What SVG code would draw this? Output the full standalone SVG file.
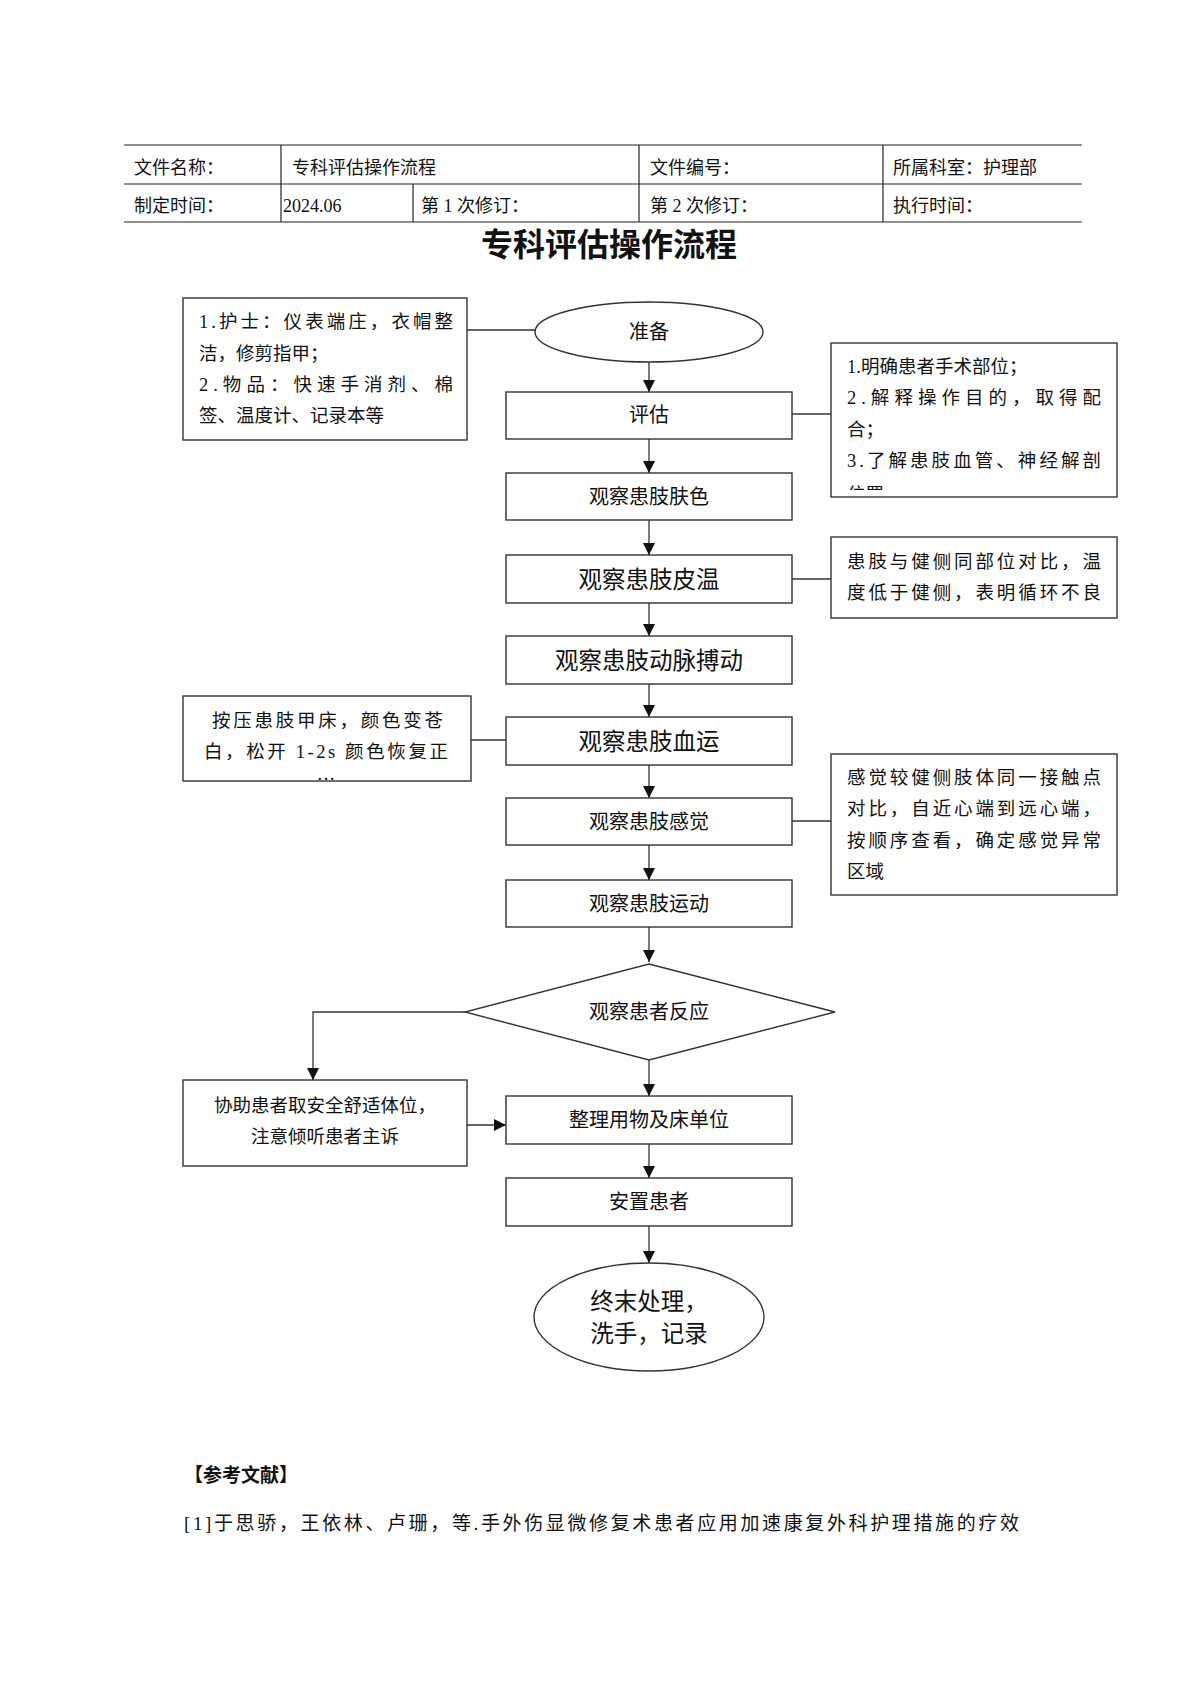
<svg xmlns="http://www.w3.org/2000/svg" width="1200" height="1696" viewBox="0 0 1200 1696">
<style>
text{font-family:"Liberation Serif","Noto Sans CJK SC",serif;fill:#111}
.hdr{font-size:18px}
.box{fill:#fff;stroke:#333;stroke-width:1.4}
.n{font-size:20px;text-anchor:middle;dominant-baseline:central}
.big{font-size:23.5px;text-anchor:middle;dominant-baseline:central}
.s{font-size:18.5px;dominant-baseline:central}
.sc{font-size:18.5px;dominant-baseline:central;text-anchor:middle}
.tl{stroke:#222;stroke-width:1.2}
.c{stroke:#333;stroke-width:1.3;fill:none}
</style>
<defs>
<marker id="ah" markerUnits="userSpaceOnUse" markerWidth="12" markerHeight="14" refX="12" refY="6" orient="auto"><path d="M0,0 L12,6 L0,12 z" fill="#111"/></marker>
<clipPath id="cr1"><rect x="832" y="344" width="284" height="146"/></clipPath>
<clipPath id="cl2"><rect x="184" y="697" width="286" height="83"/></clipPath>
</defs>
<rect width="1200" height="1696" fill="#fff"/>
<g id="header">
<line class="tl" x1="124" y1="145" x2="1082" y2="145"/>
<line class="tl" x1="124" y1="184" x2="1082" y2="184"/>
<line class="tl" x1="124" y1="222" x2="1082" y2="222"/>
<line class="tl" x1="281" y1="145" x2="281" y2="222"/>
<line class="tl" x1="413" y1="184" x2="413" y2="222"/>
<line class="tl" x1="639" y1="145" x2="639" y2="222"/>
<line class="tl" x1="883" y1="145" x2="883" y2="222"/>
<text class="hdr" x="134" y="174">文件名称：</text>
<text class="hdr" x="292" y="174">专科评估操作流程</text>
<text class="hdr" x="650" y="174">文件编号：</text>
<text class="hdr" x="893" y="174">所属科室：护理部</text>
<text class="hdr" x="134" y="212">制定时间：</text>
<text class="hdr" x="283" y="212">2024.06</text>
<text class="hdr" x="421" y="212">第 1 次修订：</text>
<text class="hdr" x="650" y="212">第 2 次修订：</text>
<text class="hdr" x="893" y="212">执行时间：</text>
<text x="609" y="256" font-size="32" font-weight="bold" text-anchor="middle">专科评估操作流程</text>
</g>
<g id="connectors">
<line class="c" x1="467" y1="330" x2="535" y2="330"/>
<line class="c" x1="649" y1="362" x2="649" y2="392" marker-end="url(#ah)"/>
<line class="c" x1="792" y1="414" x2="831" y2="414"/>
<line class="c" x1="649" y1="439" x2="649" y2="473" marker-end="url(#ah)"/>
<line class="c" x1="649" y1="520" x2="649" y2="555" marker-end="url(#ah)"/>
<line class="c" x1="792" y1="579" x2="831" y2="579"/>
<line class="c" x1="649" y1="603" x2="649" y2="636" marker-end="url(#ah)"/>
<line class="c" x1="649" y1="684" x2="649" y2="717" marker-end="url(#ah)"/>
<line class="c" x1="471" y1="740" x2="506" y2="740"/>
<line class="c" x1="649" y1="765" x2="649" y2="798" marker-end="url(#ah)"/>
<line class="c" x1="792" y1="821" x2="831" y2="821"/>
<line class="c" x1="649" y1="845" x2="649" y2="880" marker-end="url(#ah)"/>
<line class="c" x1="649" y1="927" x2="649" y2="962" marker-end="url(#ah)"/>
<polyline class="c" points="465,1012 313,1012 313,1080" marker-end="url(#ah)"/>
<line class="c" x1="649" y1="1060" x2="649" y2="1096" marker-end="url(#ah)"/>
<line class="c" x1="467" y1="1125" x2="506" y2="1125" marker-end="url(#ah)"/>
<line class="c" x1="649" y1="1144" x2="649" y2="1178" marker-end="url(#ah)"/>
<line class="c" x1="649" y1="1226" x2="649" y2="1263" marker-end="url(#ah)"/>
</g>
<g id="n-prep">
<ellipse class="box" cx="649" cy="332" rx="114" ry="30"/>
<text class="n" x="649" y="332">准备</text>
</g>
<g id="n-note1">
<rect class="box" x="183" y="298" width="284" height="142"/>
<text class="s" x="199" y="322" textLength="254" lengthAdjust="spacing">1.护士：仪表端庄，衣帽整</text>
<text class="s" x="199" y="354">洁，修剪指甲；</text>
<text class="s" x="199" y="385" textLength="254" lengthAdjust="spacing">2.物品：快速手消剂、棉</text>
<text class="s" x="199" y="416">签、温度计、记录本等</text>
</g>
<g id="n-assess">
<rect class="box" x="506" y="392" width="286" height="47"/>
<text class="n" x="649" y="415">评估</text>
</g>
<g id="n-note2">
<rect class="box" x="831" y="343" width="286" height="154"/>
<g clip-path="url(#cr1)">
<text class="s" x="847" y="367">1.明确患者手术部位；</text>
<text class="s" x="847" y="398" textLength="254" lengthAdjust="spacing">2.解释操作目的，取得配</text>
<text class="s" x="847" y="430">合；</text>
<text class="s" x="847" y="461" textLength="254" lengthAdjust="spacing">3.了解患肢血管、神经解剖</text>
<text class="s" x="847" y="495">位置</text>
</g>
</g>
<g id="n-color">
<rect class="box" x="506" y="473" width="286" height="47"/>
<text class="n" x="649" y="497">观察患肢肤色</text>
</g>
<g id="n-temp">
<rect class="box" x="506" y="555" width="286" height="48"/>
<text class="big" x="649" y="580">观察患肢皮温</text>
</g>
<g id="n-note3">
<rect class="box" x="831" y="537" width="286" height="81"/>
<text class="s" x="847" y="562" textLength="254" lengthAdjust="spacing">患肢与健侧同部位对比，温</text>
<text class="s" x="847" y="593" textLength="254" lengthAdjust="spacing">度低于健侧，表明循环不良</text>
</g>
<g id="n-pulse">
<rect class="box" x="506" y="636" width="286" height="48"/>
<text class="big" x="649" y="661">观察患肢动脉搏动</text>
</g>
<g id="n-blood">
<rect class="box" x="506" y="717" width="286" height="48"/>
<text class="big" x="649" y="742">观察患肢血运</text>
</g>
<g id="n-note4">
<rect class="box" x="183" y="696" width="288" height="85"/>
<g clip-path="url(#cl2)">
<text class="s" x="212" y="721" textLength="231" lengthAdjust="spacing">按压患肢甲床，颜色变苍</text>
<text class="s" x="204" y="752" textLength="244" lengthAdjust="spacing">白，松开 1-2s 颜色恢复正</text>
<text class="sc" x="326" y="774" font-size="11">…</text>
</g>
</g>
<g id="n-sense">
<rect class="box" x="506" y="798" width="286" height="47"/>
<text class="n" x="649" y="822">观察患肢感觉</text>
</g>
<g id="n-note5">
<rect class="box" x="831" y="754" width="286" height="141"/>
<text class="s" x="847" y="778" textLength="254" lengthAdjust="spacing">感觉较健侧肢体同一接触点</text>
<text class="s" x="847" y="809" textLength="254" lengthAdjust="spacing">对比，自近心端到远心端，</text>
<text class="s" x="847" y="841" textLength="254" lengthAdjust="spacing">按顺序查看，确定感觉异常</text>
<text class="s" x="847" y="872">区域</text>
</g>
<g id="n-move">
<rect class="box" x="506" y="880" width="286" height="47"/>
<text class="n" x="649" y="904">观察患肢运动</text>
</g>
<g id="n-react">
<polygon class="box" points="649,964 835,1012 649,1060 465,1012"/>
<text class="n" x="649" y="1012">观察患者反应</text>
</g>
<g id="n-assist">
<rect class="box" x="183" y="1080" width="284" height="86"/>
<text class="sc" x="325" y="1106">协助患者取安全舒适体位，</text>
<text class="sc" x="325" y="1137">注意倾听患者主诉</text>
</g>
<g id="n-tidy">
<rect class="box" x="506" y="1096" width="286" height="48"/>
<text class="n" x="649" y="1120">整理用物及床单位</text>
</g>
<g id="n-settle">
<rect class="box" x="506" y="1178" width="286" height="48"/>
<text class="n" x="649" y="1202">安置患者</text>
</g>
<g id="n-end">
<ellipse class="box" cx="649" cy="1317" rx="115" ry="54"/>
<text class="big" x="649" y="1302" font-size="25">终末处理，</text>
<text class="big" x="649" y="1334" font-size="25">洗手，记录</text>
</g>
<g id="refs">
<text x="184" y="1482" font-size="19" font-weight="bold">【参考文献】</text>
<text x="184" y="1530" font-size="19" textLength="835" lengthAdjust="spacing">[1]于思骄，王依林、卢珊，等.手外伤显微修复术患者应用加速康复外科护理措施的疗效</text>
</g>
</svg>
